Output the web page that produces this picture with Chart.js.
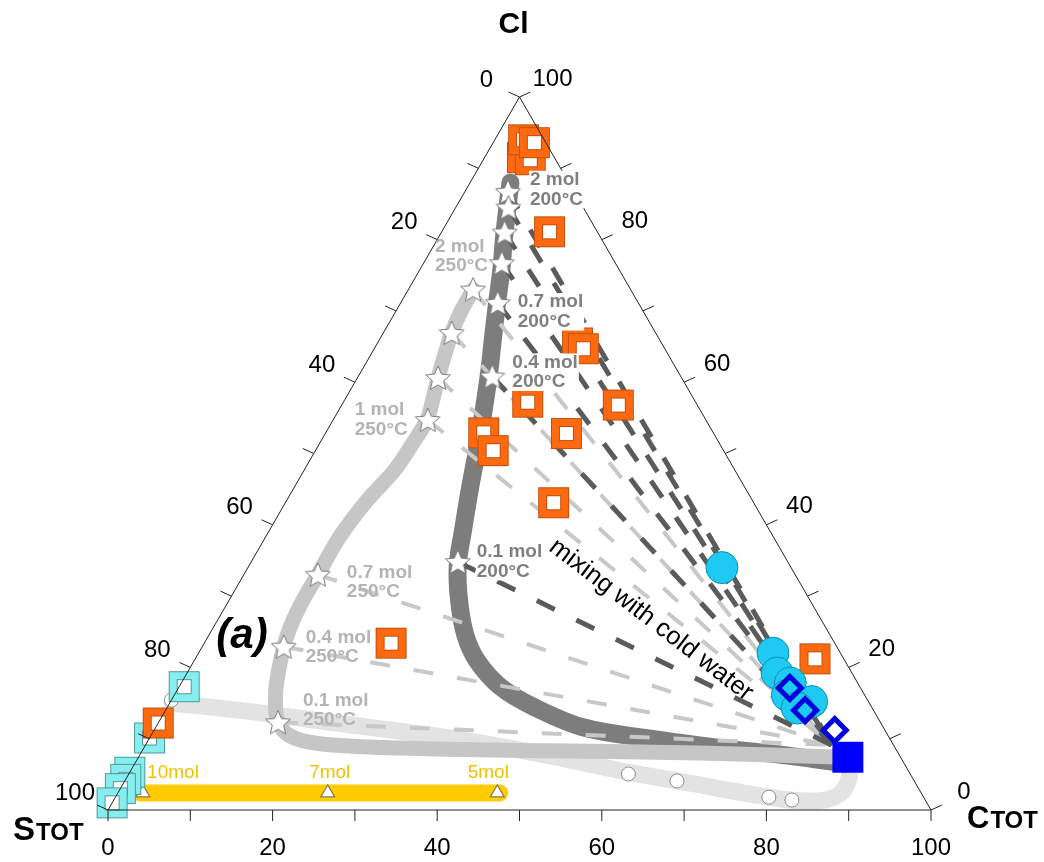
<!DOCTYPE html>
<html>
<head>
<meta charset="utf-8">
<script src="https://cdn.jsdelivr.net/npm/chart.js@4.4.1/dist/chart.umd.min.js"></script>
<style>html,body{margin:0;padding:0;background:#fff;overflow:hidden}canvas{display:block}</style>
</head>
<body>
<canvas id="c" width="1044" height="862"></canvas>
<script>
// Ternary data stored as [C_TOT %, Cl %]; S_TOT % = 100 - C_TOT - Cl
const tickSteps = [0,10,20,30,40,50,60,70,80,90,100];
const tickLabels = [0,20,40,60,80,100];

const orangeSquares = [[4.6,91.5],[5.7,91.2],[3.5,94.0],[5.0,93.6],[13.1,81.1],[24.3,65.5],[25.4,64.7],[22.4,57.2],[33.6,56.8],[29.3,52.8],[19.2,52.9],[21.6,50.4],[32.6,43.1],[22.7,23.4],[75.3,21.2],[0.0,12.2]];
const cyanSquares = [[0.6,17.3],[0.0,10.1],[0.0,5.3],[0.0,4.3],[0.0,3.0],[0.0,1.0]];
const cyanCircles = [[57.6,34.0],[69.8,22.0],[71.7,19.2],[74.0,17.8],[74.5,16.1],[77.9,15.2],[76.6,14.3]];
const blueDiamonds = [[74.3,17.1],[77.7,14.0],[82.7,11.2]];
const coldWater = [[86.2,7.4]];

const path200 = [[4.9,88.0],[6.4,84.2],[8.1,80.0],[9.9,75.8],[11.8,70.9],[13.8,65.9],[15.5,61.7],[17.6,56.1],[19.6,50.5],[21.5,44.9],[23.5,39.3],[25.3,34.4],[27.9,29.5],[31.1,24.6],[34.3,21.0],[39.0,17.3],[44.4,14.5],[51.9,11.6],[60.9,10.0],[70.0,8.7],[79.1,7.6],[86.3,6.5]];
const path250 = [[7.9,73.0],[7.9,70.2],[8.3,66.9],[9.0,63.8],[9.8,60.6],[10.7,57.5],[11.4,54.7],[11.3,51.2],[11.0,47.7],[9.8,43.5],[9.0,38.3],[9.0,33.0],[9.0,28.8],[9.5,24.6],[10.7,20.3],[12.3,16.1],[14.3,12.6],[16.9,10.4],[21.1,9.3],[31.1,8.7],[49.6,8.3],[67.9,8.0],[85.8,7.4]];
const pathBoiling = [[0.3,15.0],[10.4,13.8],[20.8,12.3],[36.5,10.1],[49.9,7.6],[60.5,5.3],[67.1,4.1],[79.4,1.8],[83.4,1.3],[86.4,1.4],[87.9,2.5],[87.8,4.5],[86.8,6.5]];
const pathYellow = [[2.7,2.4],[46.4,2.4]];

const stars200 = [[5.25,86.7],[6.4,84.5],[7.7,81.0],[9.5,76.7],[11.8,71.1],[16.3,60.8],[25.1,34.8]];
const stars250 = [[7.85,73.0],[8.3,66.9],[9.8,60.6],[11.5,54.7],[9.0,33.0],[9.9,22.9],[14.5,12.3]];
const openCircles = [[0.0,15.4],[60.7,5.05],[67.1,4.07],[79.4,1.8],[82.4,1.4]];
const molTriangles = [[3.05,2.4],[25.5,2.4],[46.1,2.4]];
const molTriangleLabels = ['10mol','7mol','5mol'];
const mixingEnd = [83.4,9.1];
const labels200 = {0:['2 mol','200°C'],4:['0.7 mol','200°C'],5:['0.4 mol','200°C'],6:['0.1 mol','200°C']};
const labels250 = {0:['2 mol','250°C'],3:['1 mol','250°C'],4:['0.7 mol','250°C'],5:['0.4 mol','250°C'],6:['0.1 mol','250°C']};

// label placement (pixels, relative to anchor star)
const off200 = {0:[22,-12],4:[20,-1],5:[20,-14],6:[19,-10]};
const off250 = {0:[-38,-43],3:[-73,-10],4:[29,-2],5:[22,-9],6:[25,-22]};
const offMol = [[30,-20],[2,-20],[-9,-20]];

const H = Math.sqrt(3)/2;
const toXY = ([c, cl]) => ({x: c + cl/2, y: cl*H});
const FONT = '"Liberation Sans", Arial, sans-serif';

function starImg(R, fill, stroke){
  const s = Math.ceil(2*R+4);
  const cv = document.createElement('canvas'); cv.width = s; cv.height = s;
  const g = cv.getContext('2d');
  g.beginPath();
  for (let k=0;k<10;k++){
    const r = k%2 ? R*0.46 : R;
    const a = -Math.PI/2 + k*Math.PI/5;
    g.lineTo(s/2 + r*Math.cos(a), s/2 + 1 + r*Math.sin(a));
  }
  g.closePath(); g.fillStyle = fill; g.fill();
  g.lineWidth = 1; g.strokeStyle = stroke; g.stroke();
  return cv;
}
function frameImg(outer, inner, color, edge){
  const s = outer + 2;
  const cv = document.createElement('canvas'); cv.width = s; cv.height = s;
  const g = cv.getContext('2d');
  g.fillStyle = color; g.fillRect(1,1,outer,outer);
  g.strokeStyle = edge; g.lineWidth = 1; g.strokeRect(1.5,1.5,outer-1,outer-1);
  const o = (s-inner)/2;
  g.fillStyle = '#fff'; g.fillRect(o,o,inner,inner);
  g.strokeRect(o+0.5,o+0.5,inner-1,inner-1);
  return cv;
}
const starI = starImg(13, '#fff', '#7a7a7a');
const orangeI = frameImg(31, 15, '#ff6a10', '#c0500c');
const cyanI = frameImg(31, 15, '#86eeee', '#4f9a9a');

const layers = [];
function line(pts, color, width, extra){
  layers.push(Object.assign({data: pts.map(toXY), showLine:true, pointRadius:0, borderColor:color, borderWidth:width,
    tension:0.35, borderCapStyle:'round', borderJoinStyle:'round', fill:false, clip:false}, extra||{}));
}
function points(pts, opts){
  layers.push(Object.assign({data: pts.map(toXY), showLine:false, clip:false}, opts));
}

line(pathBoiling, '#e3e3e3', 17);
line(pathYellow, '#ffcc00', 17, {tension:0});
line(path200, '#7d7d7d', 18);
line(path250, '#c6c6c6', 15);
points(openCircles, {pointStyle:'circle', pointRadius:7, pointBackgroundColor:'#fff', pointBorderColor:'#8c8c8c', pointBorderWidth:1});
points(molTriangles, {pointStyle:'triangle', pointRadius:8, pointBackgroundColor:'#fff', pointBorderColor:'#8a7a50', pointBorderWidth:1.2});
stars250.forEach(s => line([s, mixingEnd], '#c8c8c8', 4, {tension:0, borderDash:[20,24], borderCapStyle:'butt'}));
stars200.forEach(s => line([s, mixingEnd], '#5b5b5b', 5, {tension:0, borderDash:[20,24], borderCapStyle:'butt'}));
points(stars250, {pointStyle:starI, pointRadius:13});
points(stars200, {pointStyle:starI, pointRadius:13});
points(cyanSquares, {pointStyle:cyanI, pointRadius:15});
points(orangeSquares, {pointStyle:orangeI, pointRadius:15});
points(cyanCircles, {pointStyle:'circle', pointRadius:16, pointBackgroundColor:'#1ec9f2', pointBorderColor:'#0d8fb5', pointBorderWidth:1});
points(blueDiamonds, {pointStyle:'rectRot', pointRadius:11.5, pointBackgroundColor:'rgba(0,0,0,0)', pointBorderColor:'#0000dd', pointBorderWidth:5});
points(coldWater, {pointStyle:'rect', pointRadius:21.9, pointBackgroundColor:'#0000ff', pointBorderWidth:0});
line([[0,100],[0,0],[100,0],[0,100]], '#222', 1, {tension:0, borderCapStyle:'butt', borderJoinStyle:'miter'});
layers.forEach((d,i) => d.order = layers.length - i);

const overlay = {
  id: 'overlay',
  afterDatasetsDraw(chart){
    const {ctx, scales:{x:xs, y:ys}} = chart;
    const P = (c, cl) => [xs.getPixelForValue(c + cl/2), ys.getPixelForValue(cl*H)];
    ctx.save();
    ctx.strokeStyle = '#222'; ctx.lineWidth = 1;
    const seg = (a,b,c,d) => { ctx.beginPath(); ctx.moveTo(a,b); ctx.lineTo(c,d); ctx.stroke(); };
    tickSteps.forEach(v => {
      let [x,y] = P(v,0); seg(x,y,x,y+11);
      [x,y] = P(0,100-v); seg(x,y,x-11,y-5);
      [x,y] = P(100-v,v); seg(x,y,x+11,y-5);
    });
    ctx.fillStyle = '#000'; ctx.textAlign = 'center'; ctx.textBaseline = 'middle';
    ctx.font = '24px ' + FONT;
    tickLabels.forEach(v => {
      let [x,y] = P(v,0); ctx.fillText(String(v), x, y+38);
      [x,y] = P(0,100-v); ctx.fillText(String(v), x-33, y-17);
      [x,y] = P(100-v,v); ctx.fillText(String(v), x+33, y-18);
    });
    // corner titles
    let [ax,ay] = P(0,100);
    ctx.font = 'bold 30px ' + FONT; ctx.fillText('Cl', ax-6, ay-72);
    ctx.textAlign = 'left'; ctx.textBaseline = 'alphabetic';
    let [sx,sy] = P(0,0);
    ctx.font = 'bold 33px ' + FONT; ctx.fillText('S', sx-95, sy+30);
    let w = ctx.measureText('S').width;
    ctx.font = 'bold 24px ' + FONT; ctx.fillText('TOT', sx-95+w+1, sy+30);
    let [cx,cy] = P(100,0);
    ctx.font = 'bold 31px ' + FONT; ctx.fillText('C', cx+36, cy+18);
    w = ctx.measureText('C').width;
    ctx.font = 'bold 24px ' + FONT; ctx.fillText('TOT', cx+36+w+1, cy+18);

    // star labels
    ctx.font = 'bold 19px ' + FONT; ctx.textBaseline = 'middle';
    const drawLab = (stars, labs, offs, color, bg) => {
      Object.keys(labs).forEach(k => {
        const [px,py] = P(stars[k][0], stars[k][1]);
        const [dx,dy] = offs[k];
        const lines = labs[k];
        if (bg) {
          const wmax = Math.max(...lines.map(t => ctx.measureText(t).width));
          ctx.fillStyle = '#fff';
          ctx.fillRect(px+dx-1, py+dy-9, wmax+2, 19.5*(lines.length-1)+18);
        }
        ctx.fillStyle = color;
        lines.forEach((t,j) => ctx.fillText(t, px+dx, py+dy+19.5*j));
      });
    };
    drawLab(stars200, labels200, off200, '#7f7f7f', true);
    drawLab(stars250, labels250, off250, '#b4b4b4', false);

    // yellow labels
    ctx.font = '19px ' + FONT; ctx.textAlign = 'center'; ctx.fillStyle = '#f2c200';
    molTriangles.forEach((t,i) => {
      const [px,py] = P(t[0], t[1]);
      ctx.fillText(molTriangleLabels[i], px+offMol[i][0], py+offMol[i][1]);
    });

    // panel label
    ctx.fillStyle = '#000';
    ctx.font = 'italic bold 42px ' + FONT;
    ctx.fillText('(a)', 242, 636);

    // mixing text
    ctx.save();
    ctx.translate(651, 620);
    ctx.rotate(37.5*Math.PI/180);
    ctx.font = '25.5px ' + FONT;
    ctx.fillText('mixing with cold water', 0, 0);
    ctx.restore();
    ctx.restore();
  }
};

new Chart(document.getElementById('c').getContext('2d'), {
  type: 'scatter',
  data: {datasets: layers},
  options: {
    responsive: false,
    animation: false,
    devicePixelRatio: 1,
    events: [],
    layout: {padding: {left:108, right:113, top:97, bottom:52}},
    scales: {
      x: {type:'linear', min:0, max:100, display:false},
      y: {type:'linear', min:0, max:100*H, display:false}
    },
    plugins: {legend:{display:false}, tooltip:{enabled:false}, title:{display:false}}
  },
  plugins: [overlay]
});
</script>
</body>
</html>
